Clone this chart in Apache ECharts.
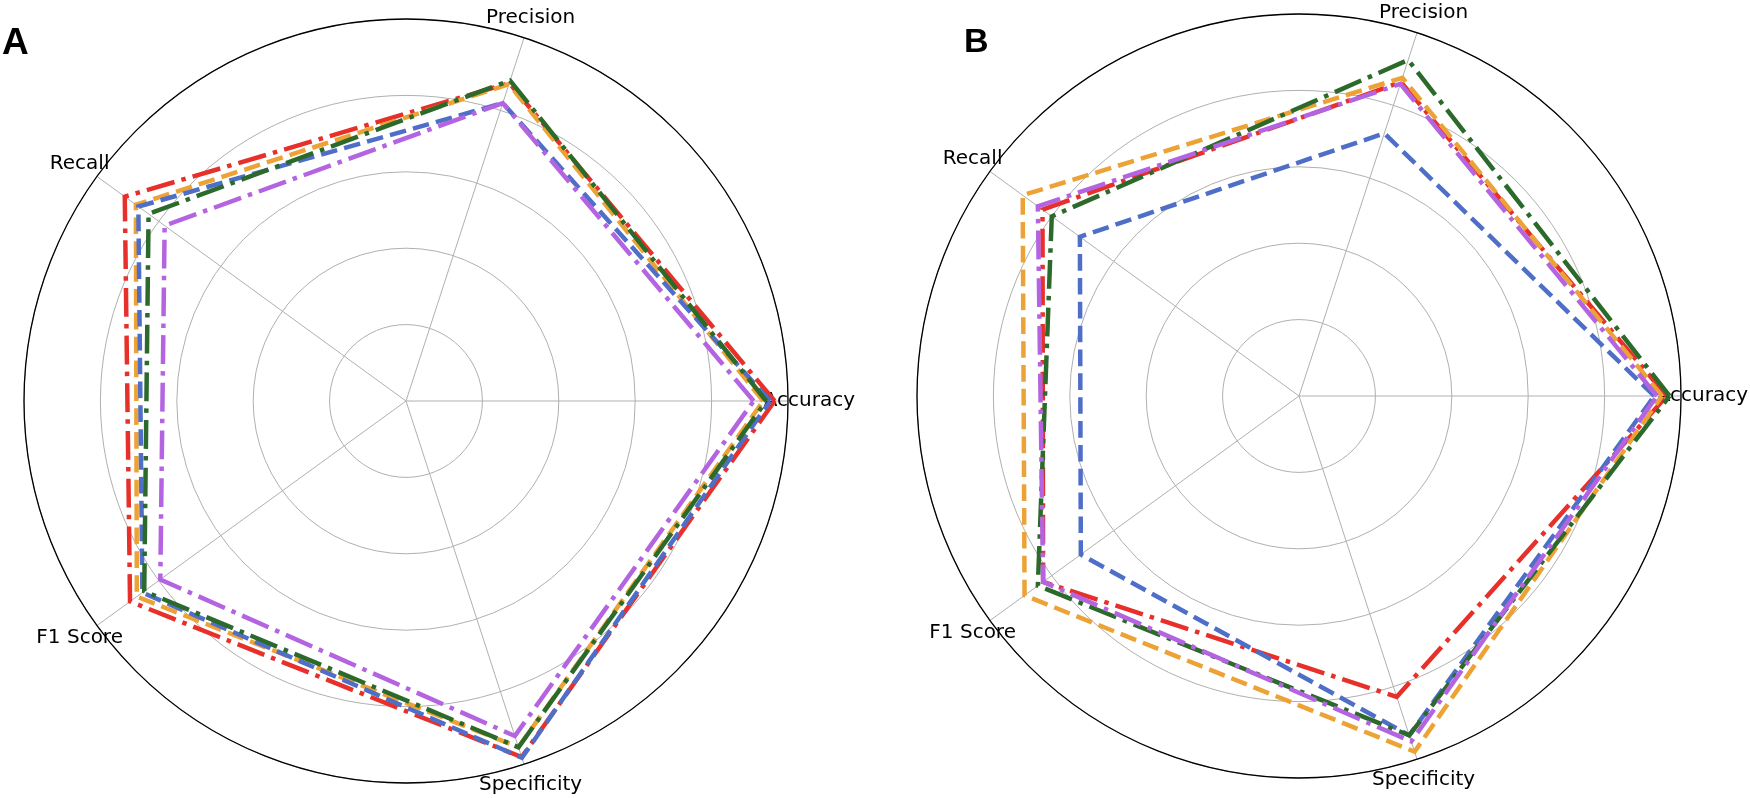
<!DOCTYPE html>
<html>
<head>
<meta charset="utf-8">
<script src="https://cdn.jsdelivr.net/npm/echarts@6/dist/echarts.min.js"></script>
<style>
html,body{margin:0;padding:0;background:#fff;}
#c{width:1750px;height:798px;}
</style>
</head>
<body>
<div id="c"></div>
<script>
// ---------- data ----------
const categories = ['Accuracy', 'Precision', 'Recall', 'F1 Score', 'Specificity'];
const panelLabels = ['A', 'B'];
const seriesNames = ['Model 1', 'Model 2', 'Model 3', 'Model 4', 'Model 5'];

// Panel A (values in category order)
const redA    = [0.965, 0.875, 0.910, 0.893, 0.980];
const orangeA = [0.935, 0.872, 0.874, 0.871, 0.953];
const blueA   = [0.953, 0.820, 0.866, 0.853, 0.982];
const greenA  = [0.943, 0.882, 0.833, 0.847, 0.953];
const purpleA = [0.910, 0.820, 0.781, 0.795, 0.922];

// Panel B
const redB    = [0.963, 0.864, 0.830, 0.828, 0.828];
const orangeB = [0.950, 0.876, 0.894, 0.888, 0.979];
const blueB   = [0.930, 0.723, 0.709, 0.706, 0.934];
const greenB  = [0.970, 0.925, 0.800, 0.845, 0.934];
const purpleB = [0.937, 0.859, 0.845, 0.828, 0.951];

const panelA = [redA, orangeA, blueA, greenA, purpleA];
const panelB = [redB, orangeB, blueB, greenB, purpleB];

// ---------- styles ----------
const colors = ['#e8302a', '#eda236', '#4f6ec8', '#2c6a2c', '#b464e0'];
const LW = 4.5;
const dashed  = [3.7 * LW, 1.6 * LW];
const dashdot = [6.4 * LW, 1.6 * LW, 1.0 * LW, 1.6 * LW];
const dashTypes = [dashdot, dashed, dashed, dashdot, dashdot];

const chart = echarts.init(document.getElementById('c'), null, {renderer: 'canvas'});
const step = 360 / categories.length;

function polarAxes(idx) {
  return {
    angle: {
      polarIndex: idx, type: 'value', min: 0, max: 360, interval: step,
      startAngle: 0, clockwise: false,
      axisLine: {show: true, lineStyle: {color: '#000000', width: 1.3}},
      axisTick: {show: false}, axisLabel: {show: false},
      splitLine: {show: true, lineStyle: {color: '#b0b0b0', width: 1}}
    },
    radius: {
      polarIndex: idx, type: 'value', min: 0, max: 1, interval: 0.2,
      axisLine: {show: false}, axisTick: {show: false}, axisLabel: {show: false},
      splitLine: {show: true, lineStyle: {color: '#b0b0b0', width: 1}}
    }
  };
}
const pa = polarAxes(0), pb = polarAxes(1);

function buildSeries(panel, polarIndex) {
  return panel.map((vals, k) => {
    const pts = vals.map((v, i) => [v, i * step]);
    pts.push([vals[0], 360]);
    return {
      name: seriesNames[k], type: 'line', coordinateSystem: 'polar', polarIndex: polarIndex,
      data: pts, symbol: 'none', silent: true, animation: false, z: 3,
      lineStyle: {color: colors[k], width: LW, type: dashTypes[k], cap: 'butt', join: 'miter'}
    };
  });
}

chart.setOption({
  backgroundColor: '#ffffff',
  animation: false,
  polar: [
    {center: [406, 401], radius: 382},
    {center: [1299, 396], radius: 382}
  ],
  angleAxis: [pa.angle, pb.angle],
  radiusAxis: [pa.radius, pb.radius],
  series: buildSeries(panelA, 0).concat(buildSeries(panelB, 1))
});

// category labels positioned through the polar coordinate system
const graphics = [];
[0, 1].forEach(p => {
  categories.forEach((name, i) => {
    const pt = chart.convertToPixel({polarIndex: p}, [1.056, i * step]);
    if (!pt) return;
    graphics.push({
      type: 'text', x: pt[0], y: pt[1], z: 1, silent: true,
      style: {text: name, fill: '#000', font: '20px "DejaVu Sans"', align: 'center', verticalAlign: 'middle'}
    });
  });
});
graphics.push({type: 'text', x: 2, y: 44, z: 5, silent: true,
  style: {text: panelLabels[0], fill: '#000', font: 'bold 37px "Liberation Sans"', align: 'left', verticalAlign: 'middle'}});
graphics.push({type: 'text', x: 964, y: 43, z: 5, silent: true,
  style: {text: panelLabels[1], fill: '#000', font: 'bold 34px "Liberation Sans"', align: 'left', verticalAlign: 'middle'}});
chart.setOption({graphic: graphics});
</script>
</body>
</html>
